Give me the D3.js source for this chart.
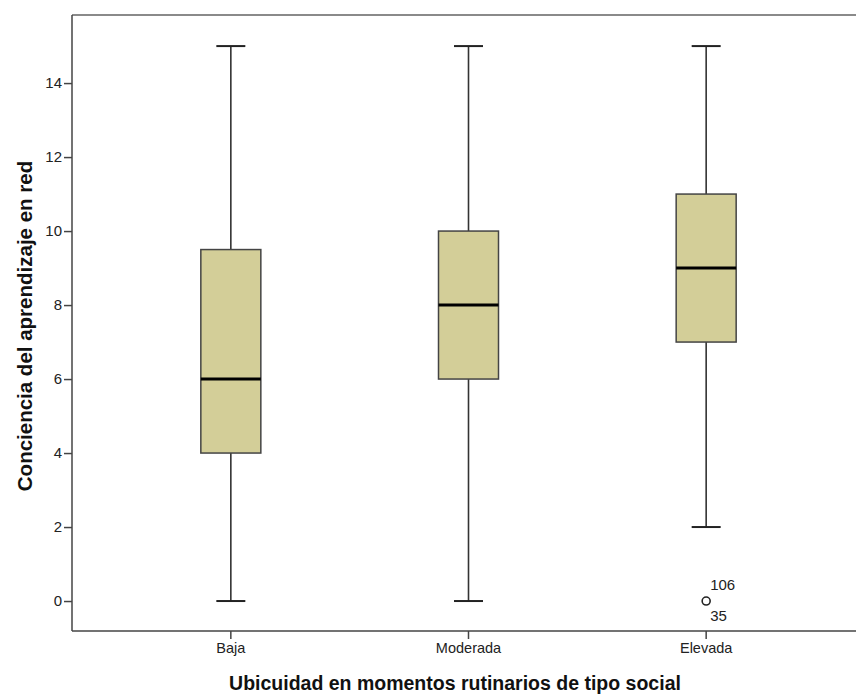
<!DOCTYPE html>
<html>
<head>
<meta charset="utf-8">
<script src="https://cdn.jsdelivr.net/npm/d3@7"></script>
<style>
  body{margin:0;background:#fff;}
  svg text{font-family:"Liberation Sans",Arial,sans-serif;fill:#222;}
</style>
</head>
<body>
<div id="chart"></div>
<script>
const categories = ["Baja","Moderada","Elevada"];
const mins    = [0, 0, 2];
const q1s     = [4, 6, 7];
const medians = [6, 8, 9];
const q3s     = [9.5, 10, 11];
const maxs    = [15, 15, 15];
const outliers = [{cat:"Elevada", value:0, labels:["106","35"]}];
const yTicks = [0,2,4,6,8,10,12,14];

const w = 856, h = 695;
const m = {left:72, top:15, right:0, bottom:64};

const svg = d3.select("#chart").append("svg")
  .attr("width",w).attr("height",h);

const y = d3.scaleLinear().domain([-0.81,15.84]).range([h-m.bottom, m.top]);
const x = d3.scaleBand().domain(categories).range([112,825]);

const boxes = categories.map((c,i)=>({
  cat:c, min:mins[i], q1:q1s[i], med:medians[i], q3:q3s[i], max:maxs[i]
}));

// frame: grey top line, dark left/bottom axes
svg.append("line")
  .attr("x1",m.left).attr("x2",w).attr("y1",m.top).attr("y2",m.top)
  .attr("stroke","#8a8a8a").attr("stroke-width",2);

const yAxis = d3.axisLeft(y).tickValues(yTicks).tickSize(8).tickSizeOuter(0);
const gy = svg.append("g").attr("transform","translate("+m.left+",0)").call(yAxis);
gy.select(".domain").remove();
gy.selectAll(".tick line").attr("stroke","#444").attr("stroke-width",1.5);
gy.selectAll("text").style("font-size","15px").attr("x",-10);
svg.append("line")
  .attr("x1",m.left).attr("x2",m.left).attr("y1",m.top).attr("y2",h-m.bottom)
  .attr("stroke","#444").attr("stroke-width",1.5);

const xAxis = d3.axisBottom(x).tickSize(8).tickSizeOuter(0);
const gx = svg.append("g").attr("transform","translate(0,"+(h-m.bottom)+")").call(xAxis);
gx.select(".domain").remove();
gx.selectAll(".tick line").attr("stroke","#444").attr("stroke-width",1.5);
gx.selectAll("text").style("font-size","14.5px").attr("y",12);
svg.append("line")
  .attr("x1",m.left).attr("x2",w).attr("y1",h-m.bottom).attr("y2",h-m.bottom)
  .attr("stroke","#444").attr("stroke-width",1.5);

const boxW = 60, capW = 29;
const g = svg.selectAll(".box").data(boxes).enter().append("g")
  .attr("class","box")
  .attr("transform",d=>"translate("+(x(d.cat)+x.bandwidth()/2)+",0)");

// whiskers
g.append("line").attr("x1",0).attr("x2",0)
  .attr("y1",d=>y(d.max)).attr("y2",d=>y(d.q3))
  .attr("stroke","#333").attr("stroke-width",1.6);
g.append("line").attr("x1",0).attr("x2",0)
  .attr("y1",d=>y(d.q1)).attr("y2",d=>y(d.min))
  .attr("stroke","#333").attr("stroke-width",1.6);
g.append("line").attr("x1",-capW/2).attr("x2",capW/2)
  .attr("y1",d=>y(d.max)).attr("y2",d=>y(d.max))
  .attr("stroke","#222").attr("stroke-width",2);
g.append("line").attr("x1",-capW/2).attr("x2",capW/2)
  .attr("y1",d=>y(d.min)).attr("y2",d=>y(d.min))
  .attr("stroke","#222").attr("stroke-width",2);

// box
g.append("rect")
  .attr("x",-boxW/2).attr("width",boxW)
  .attr("y",d=>y(d.q3)).attr("height",d=>y(d.q1)-y(d.q3))
  .attr("fill","#d3ce98").attr("stroke","#444").attr("stroke-width",1.5);
g.append("line").attr("x1",-boxW/2).attr("x2",boxW/2)
  .attr("y1",d=>y(d.med)).attr("y2",d=>y(d.med))
  .attr("stroke","#000").attr("stroke-width",3);

// outliers
outliers.forEach(o=>{
  const cx = x(o.cat)+x.bandwidth()/2, cy = y(o.value);
  svg.append("circle").attr("cx",cx).attr("cy",cy).attr("r",4)
    .attr("fill","#fff").attr("stroke","#222").attr("stroke-width",1.6);
  svg.append("text").attr("x",cx+4).attr("y",cy-11).text(o.labels[0]).style("font-size","15px");
  svg.append("text").attr("x",cx+4).attr("y",cy+20).text(o.labels[1]).style("font-size","15px");
});

// axis titles
svg.append("text")
  .attr("x",455).attr("y",690)
  .attr("text-anchor","middle")
  .style("font-size","19.5px").style("font-weight","bold").style("fill","#111")
  .text("Ubicuidad en momentos rutinarios de tipo social");
svg.append("text")
  .attr("transform","translate(32,326) rotate(-90)")
  .attr("text-anchor","middle")
  .style("font-size","20.5px").style("font-weight","bold").style("fill","#111")
  .text("Conciencia del aprendizaje en red");
</script>
</body>
</html>
